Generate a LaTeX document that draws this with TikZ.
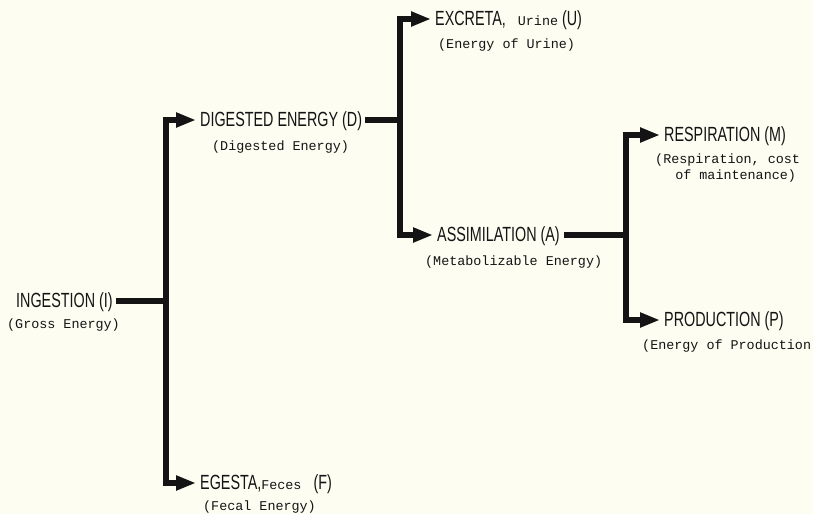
\documentclass[tikz,border=0pt]{standalone}
\usepackage{fontspec}
\usetikzlibrary{arrows.meta}
\newfontfamily\condfont[FakeStretch=0.7]{Liberation Sans}
\newfontfamily\monofont{Liberation Mono}
\definecolor{paper}{RGB}{253,253,242}
\definecolor{ink}{RGB}{20,20,20}
\tikzset{
  title/.style={inner sep=0pt, anchor=west, font=\condfont\fontsize{20.5}{22}\selectfont, text=ink, text height=14pt, text depth=1pt},
  sub/.style={inner sep=0pt, anchor=west, font=\monofont\fontsize{13.4}{16}\selectfont, text=ink},
  bar/.style={line width=5.5pt, draw=ink},
  arr/.style={bar, -{Triangle[length=20pt,width=14pt]}, shorten >=4pt},
}
\begin{document}
\begin{tikzpicture}[x=1pt,y=-1pt]
\fill[paper] (0,0) rectangle (813,514);
\useasboundingbox (0,0) rectangle (813,514);

% nodes
\node[title] (I) at (16,301) {INGESTION (I)};
\node[sub] (Is) at (7,325) {(Gross Energy)};

\node[title] (D) at (200,120) {DIGESTED ENERGY (D)};
\node[sub] (Ds) at (212,147) {(Digested Energy)};

\node[title] (F) at (200,483) {EGESTA,{\monofont\fontsize{13.4}{16}\selectfont Feces}\hspace{12pt}(F)};
\node[sub] (Fs) at (203,507) {(Fecal Energy)};

\node[title] (E) at (435,19) {EXCRETA,\hspace{12pt}{\monofont\fontsize{13.4}{16}\selectfont Urine} (U)};
\node[sub] (Es) at (438,45) {(Energy of Urine)};

\node[title] (A) at (437,235) {ASSIMILATION (A)};
\node[sub] (As) at (425,262) {(Metabolizable Energy)};

\node[title] (M) at (664,135) {RESPIRATION (M)};
\node[sub, anchor=north west, align=center] (Ms) at (655,154) {(Respiration, cost\\\hspace*{1.2em}of maintenance)};

\node[title] (P) at (664,320) {PRODUCTION (P)};
\node[sub] (Ps) at (642,346) {(Energy of Production};

% junctions
\coordinate (j1) at (166,301);
\coordinate (j2) at (400,120);
\coordinate (j3) at (626,235);

% connectors
\draw[bar, shorten <=3pt] (I.east) -- (j1);
\draw[arr] (j1) |- (D.west);
\draw[arr] (j1) |- (F.west);

\draw[bar, shorten <=3pt] (D.east) -- (j2);
\draw[arr] (j2) |- (E.west);
\draw[arr] (j2) |- (A.west);

\draw[bar, shorten <=4pt] (A.east) -- (j3);
\draw[arr] (j3) |- (M.west);
\draw[arr] (j3) |- (P.west);
\end{tikzpicture}
\end{document}
